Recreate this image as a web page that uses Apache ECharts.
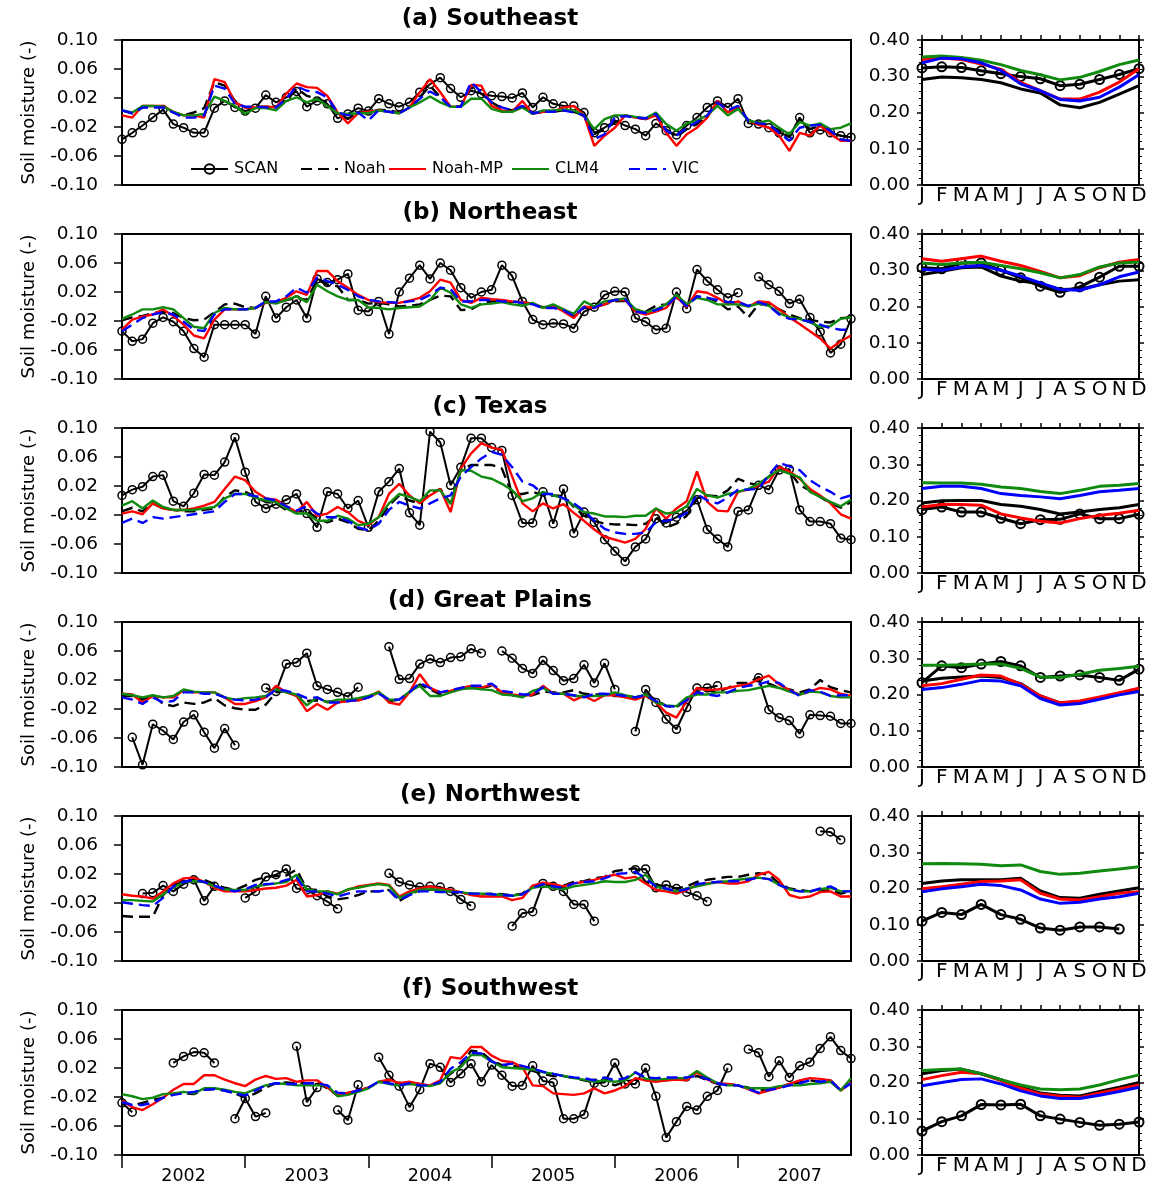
<!DOCTYPE html>
<html>
<head>
<meta charset="utf-8">
<script src="https://cdn.jsdelivr.net/npm/echarts@6/dist/echarts.min.js"></script>
<style>
  html, body { margin: 0; padding: 0; background: #ffffff; }
  #chart { width: 1151px; height: 1188px; }
</style>
</head>
<body>
<div id="chart"></div>
<script>
// ---- labels ----
const regionTitles = ['(a) Southeast', '(b) Northeast', '(c) Texas', '(d) Great Plains', '(e) Northwest', '(f) Southwest'];
const seriesNames = ['SCAN', 'Noah', 'Noah-MP', 'CLM4', 'VIC'];
const yearLabels = ['2002', '2003', '2004', '2005', '2006', '2007'];
const monthLetters = ['J', 'F', 'M', 'A', 'M', 'J', 'J', 'A', 'S', 'O', 'N', 'D'];
const anomalyTicks = [-0.10, -0.06, -0.02, 0.02, 0.06, 0.10];

// ---- monthly soil moisture anomalies, Jan 2002 .. Dec 2007 (null = no SCAN data) ----
// (a) Southeast
const scanSE = [-0.037,-0.028,-0.018,-0.007,0.004,-0.016,-0.021,-0.028,-0.028,0.006,0.016,0.007,0.002,0.006,0.024,0.014,0.021,0.029,0.008,0.016,0.012,-0.008,-0.002,0.006,0.002,0.019,0.012,0.008,0.014,0.028,0.039,0.048,0.033,0.021,0.030,0.026,0.023,0.022,0.020,0.027,0.007,0.021,0.012,0.009,0.009,0.000,-0.028,-0.021,-0.011,-0.018,-0.023,-0.032,-0.015,-0.025,-0.031,-0.018,-0.007,0.007,0.016,0.007,0.019,-0.015,-0.016,-0.021,-0.028,-0.033,-0.007,-0.028,-0.024,-0.028,-0.032,-0.034];
const noahSE = [0.003,-0.001,0.007,0.008,0.008,0.000,-0.004,0.000,0.006,0.042,0.037,0.016,0.007,0.008,0.008,0.008,0.016,0.033,0.023,0.019,0.014,-0.001,-0.009,0.001,0.000,0.004,0.003,0.000,0.007,0.021,0.037,0.021,0.008,0.009,0.035,0.026,0.014,0.006,0.003,0.009,-0.001,0.001,0.001,0.003,0.001,-0.004,-0.030,-0.023,-0.014,-0.004,-0.007,-0.009,-0.004,-0.023,-0.034,-0.023,-0.016,-0.005,0.016,0.003,0.008,-0.011,-0.014,-0.017,-0.025,-0.034,-0.009,-0.023,-0.018,-0.028,-0.032,-0.034];
const noahmpSE = [-0.004,-0.007,0.009,0.009,0.009,0.001,-0.004,-0.004,-0.007,0.046,0.042,0.014,0.007,0.007,0.008,0.007,0.026,0.040,0.035,0.034,0.023,0.000,-0.015,-0.001,0.001,0.003,0.001,-0.001,0.007,0.028,0.046,0.028,0.008,0.008,0.038,0.037,0.009,0.003,0.001,0.016,-0.002,0.001,0.001,0.007,0.009,-0.004,-0.046,-0.032,-0.021,-0.004,-0.007,-0.009,-0.004,-0.028,-0.046,-0.030,-0.021,-0.007,0.016,0.000,0.007,-0.011,-0.017,-0.021,-0.032,-0.053,-0.028,-0.032,-0.018,-0.030,-0.039,-0.039];
const clm4SE = [0.003,0.000,0.009,0.009,0.008,0.001,-0.004,-0.004,-0.002,0.022,0.016,0.009,-0.002,0.006,0.006,0.003,0.016,0.021,0.014,0.019,0.009,-0.001,-0.002,-0.001,-0.001,0.003,0.001,-0.001,0.007,0.014,0.022,0.014,0.008,0.008,0.019,0.019,0.005,0.001,0.001,0.007,-0.002,0.003,0.003,0.004,0.003,-0.004,-0.023,-0.009,-0.004,-0.004,-0.006,-0.008,0.000,-0.016,-0.025,-0.015,-0.011,-0.004,0.009,-0.004,0.005,-0.011,-0.014,-0.011,-0.021,-0.030,-0.013,-0.018,-0.015,-0.023,-0.021,-0.015];
const vicSE = [0.003,-0.001,0.007,0.007,0.007,0.000,-0.007,-0.007,-0.004,0.037,0.033,0.012,0.008,0.008,0.007,0.007,0.019,0.036,0.030,0.028,0.021,0.000,-0.004,0.000,-0.011,0.003,0.001,-0.001,0.007,0.019,0.029,0.021,0.008,0.008,0.042,0.028,0.014,0.007,0.003,0.009,-0.001,0.001,0.001,0.003,0.000,-0.004,-0.037,-0.030,-0.007,-0.005,-0.007,-0.008,-0.002,-0.025,-0.032,-0.021,-0.013,-0.004,0.014,0.003,0.009,-0.011,-0.015,-0.016,-0.028,-0.039,-0.021,-0.018,-0.017,-0.025,-0.037,-0.039];

// (b) Northeast
const scanNE = [-0.034,-0.048,-0.045,-0.023,-0.015,-0.021,-0.034,-0.058,-0.070,-0.025,-0.025,-0.025,-0.025,-0.038,0.014,-0.016,-0.001,0.009,-0.016,0.038,0.033,0.037,0.045,-0.005,-0.007,0.007,-0.038,0.020,0.039,0.057,0.038,0.060,0.050,0.026,0.012,0.020,0.023,0.057,0.042,0.007,-0.018,-0.025,-0.023,-0.024,-0.030,-0.007,-0.001,0.016,0.021,0.020,-0.016,-0.021,-0.032,-0.030,0.020,-0.003,0.051,0.035,0.023,0.012,0.019,null,0.041,0.030,0.021,0.004,0.010,-0.015,-0.035,-0.064,-0.052,-0.017];
const noahNE = [-0.019,-0.015,-0.013,-0.009,-0.007,-0.009,-0.016,-0.019,-0.018,-0.008,0.003,0.004,-0.001,-0.002,0.007,0.005,0.009,0.012,0.009,0.037,0.030,0.028,0.009,0.009,0.004,0.005,0.003,0.000,0.001,0.003,0.009,0.015,0.014,-0.005,-0.004,0.004,0.007,0.007,0.006,0.006,0.003,-0.001,0.000,-0.004,-0.014,-0.002,-0.001,0.003,0.007,0.008,-0.004,-0.007,0.001,0.003,0.012,0.004,0.014,0.012,0.007,-0.004,0.000,-0.015,0.003,0.003,-0.004,-0.011,-0.016,-0.018,-0.021,-0.022,-0.016,-0.015];
const noahmpNE = [-0.032,-0.018,-0.014,-0.011,-0.004,-0.013,-0.025,-0.040,-0.044,-0.018,-0.004,-0.004,-0.004,-0.002,0.005,0.006,0.012,0.021,0.016,0.049,0.049,0.035,0.026,0.016,0.009,0.006,0.005,0.005,0.008,0.012,0.021,0.037,0.033,0.009,0.005,0.012,0.010,0.009,0.007,0.006,0.004,-0.002,0.001,-0.007,-0.016,0.000,-0.002,0.003,0.009,0.009,-0.007,-0.011,-0.007,-0.002,0.014,-0.001,0.021,0.019,0.012,0.003,0.007,0.000,0.007,0.006,-0.004,-0.015,-0.024,-0.034,-0.044,-0.058,-0.048,-0.040];
const clm4NE = [-0.017,-0.011,-0.004,-0.004,-0.001,-0.004,-0.016,-0.028,-0.030,-0.009,-0.002,-0.004,-0.004,-0.002,0.006,0.004,0.009,0.014,0.006,0.030,0.021,0.014,0.009,0.009,-0.001,-0.002,-0.004,-0.002,-0.001,0.000,0.009,0.026,0.019,0.003,-0.002,0.003,0.004,0.006,0.003,0.001,0.005,-0.002,0.003,-0.004,-0.010,0.007,0.000,0.007,0.009,0.011,-0.004,-0.008,-0.004,0.003,0.016,0.003,0.012,0.009,0.003,0.003,0.003,0.000,0.004,0.001,-0.009,-0.015,-0.017,-0.022,-0.028,-0.027,-0.017,-0.015];
const vicNE = [-0.034,-0.025,-0.016,-0.011,-0.008,-0.011,-0.021,-0.032,-0.034,-0.011,-0.004,-0.004,-0.004,-0.002,0.007,0.007,0.014,0.026,0.019,0.040,0.035,0.030,0.023,0.014,0.009,0.007,0.006,0.005,0.007,0.009,0.016,0.026,0.024,0.007,0.007,0.009,0.009,0.007,0.007,0.005,0.003,-0.002,-0.002,-0.005,-0.013,-0.001,-0.002,0.005,0.009,0.010,-0.007,-0.009,-0.005,0.000,0.014,0.000,0.014,0.012,0.009,0.006,0.006,0.001,0.006,0.001,-0.011,-0.017,-0.018,-0.021,-0.025,-0.030,-0.032,-0.032];

// (c) Texas
const scanTX = [0.007,0.015,0.019,0.033,0.035,-0.001,-0.008,0.010,0.036,0.035,0.053,0.087,0.039,-0.002,-0.011,-0.005,0.001,0.009,-0.018,-0.037,0.012,0.009,-0.011,0.000,-0.037,0.012,0.026,0.044,-0.017,-0.034,0.095,0.080,0.021,0.046,0.086,0.086,0.073,0.069,0.007,-0.031,-0.031,0.012,-0.032,0.016,-0.045,-0.016,-0.030,-0.054,-0.070,-0.084,-0.064,-0.053,-0.025,-0.031,-0.023,-0.014,0.001,-0.040,-0.053,-0.064,-0.015,-0.013,0.021,0.015,0.042,0.043,-0.013,-0.029,-0.029,-0.032,-0.052,-0.054];
const noahTX = [-0.015,-0.010,-0.015,-0.004,-0.011,-0.013,-0.015,-0.015,-0.013,-0.011,0.005,0.014,0.012,0.005,-0.002,-0.004,-0.013,-0.015,-0.014,-0.025,-0.030,-0.025,-0.030,-0.039,-0.041,-0.028,-0.007,0.007,0.000,-0.004,0.009,0.016,-0.004,0.042,0.049,0.049,0.049,0.044,0.009,0.009,0.012,0.007,0.007,0.006,-0.009,-0.021,-0.028,-0.032,-0.033,-0.033,-0.034,-0.032,-0.021,-0.037,-0.032,-0.021,0.003,0.007,0.006,0.014,0.030,0.024,0.021,0.033,0.046,0.040,0.021,0.014,0.005,-0.004,-0.010,-0.002];
const noahmpTX = [-0.018,-0.015,-0.019,-0.004,-0.011,-0.013,-0.013,-0.011,-0.007,-0.002,0.016,0.033,0.028,0.012,0.003,0.001,-0.008,-0.016,-0.002,-0.021,-0.018,-0.009,-0.016,-0.028,-0.034,-0.023,0.009,0.023,0.007,-0.004,0.007,0.016,-0.016,0.044,0.065,0.079,0.073,0.070,0.033,-0.004,-0.015,-0.004,-0.011,-0.005,-0.017,-0.028,-0.040,-0.050,-0.054,-0.058,-0.053,-0.039,-0.011,-0.025,-0.011,-0.001,0.040,-0.002,-0.014,-0.015,0.012,0.015,0.021,0.026,0.046,0.040,0.030,0.016,0.007,-0.004,-0.019,-0.025];
const clm4TX = [-0.007,-0.001,-0.011,0.000,-0.009,-0.013,-0.013,-0.013,-0.011,-0.009,0.003,0.009,0.009,0.004,0.000,-0.002,-0.011,-0.018,-0.018,-0.028,-0.028,-0.021,-0.025,-0.034,-0.032,-0.023,-0.004,0.009,0.005,-0.001,0.014,0.014,-0.005,0.042,0.041,0.033,0.030,0.023,0.014,-0.001,0.003,0.012,0.007,0.003,-0.007,-0.016,-0.018,-0.022,-0.022,-0.023,-0.021,-0.021,-0.011,-0.018,-0.016,-0.008,0.016,0.007,0.004,0.009,0.012,0.016,0.023,0.033,0.042,0.037,0.032,0.012,0.005,-0.002,-0.008,0.001];
const vicTX = [-0.031,-0.025,-0.031,-0.023,-0.025,-0.023,-0.021,-0.019,-0.017,-0.015,-0.002,0.009,0.009,0.006,0.003,0.000,-0.008,-0.014,-0.008,-0.018,-0.023,-0.023,-0.028,-0.037,-0.041,-0.032,-0.013,-0.002,-0.007,-0.011,-0.004,0.003,0.007,0.033,0.046,0.058,0.067,0.063,0.046,0.026,0.021,0.009,0.009,0.003,-0.004,-0.014,-0.028,-0.039,-0.044,-0.046,-0.046,-0.044,-0.030,-0.028,-0.025,-0.017,0.009,0.000,-0.004,0.004,0.015,0.015,0.016,0.035,0.052,0.047,0.042,0.028,0.019,0.012,0.003,0.007];

// (d) Great Plains
const scanGP = [null,-0.059,-0.097,-0.041,-0.050,-0.062,-0.038,-0.028,-0.052,-0.074,-0.047,-0.070,null,null,0.009,0.004,0.042,0.044,0.057,0.012,0.007,0.003,-0.003,0.010,null,null,0.066,0.021,0.022,0.042,0.049,0.044,0.051,0.052,0.063,0.057,null,0.060,0.050,0.036,0.029,0.047,0.033,0.019,0.022,0.041,0.016,0.043,0.007,null,-0.051,0.007,-0.011,-0.034,-0.048,-0.018,0.009,0.009,0.012,null,null,null,0.023,-0.021,-0.032,-0.036,-0.054,-0.028,-0.029,-0.030,-0.040,-0.040];
const noahGP = [-0.002,-0.002,-0.007,-0.001,-0.013,-0.016,-0.011,-0.013,-0.011,-0.005,-0.015,-0.019,-0.021,-0.021,-0.014,0.003,0.005,-0.002,-0.009,-0.008,-0.010,-0.009,-0.009,-0.008,-0.004,0.003,-0.009,-0.007,0.003,0.014,0.007,0.000,0.004,0.009,0.009,0.009,0.012,0.003,-0.001,-0.002,-0.001,0.004,0.003,0.003,0.006,0.001,0.000,0.000,-0.002,-0.002,-0.004,0.000,-0.007,-0.016,-0.017,-0.008,0.006,0.006,0.003,0.009,0.016,0.016,0.024,0.015,0.009,0.007,0.003,0.007,0.020,0.010,0.006,0.003];
const noahmpGP = [0.001,0.000,-0.011,-0.002,-0.004,-0.004,0.006,0.003,0.003,0.003,-0.004,-0.013,-0.013,-0.009,-0.004,0.012,0.003,-0.002,-0.023,-0.013,-0.021,-0.011,-0.009,-0.008,-0.004,0.004,-0.011,-0.014,0.003,0.028,0.009,0.003,0.005,0.009,0.012,0.009,0.014,0.003,0.000,-0.002,0.000,0.012,0.001,0.001,-0.008,-0.002,-0.009,-0.001,-0.001,-0.004,-0.007,-0.002,-0.011,-0.025,-0.032,-0.009,0.009,0.006,0.007,0.009,0.012,0.014,0.021,0.026,0.014,0.006,0.000,0.004,0.009,0.007,0.001,-0.002];
const clm4GP = [0.001,-0.001,-0.004,-0.001,-0.004,-0.002,0.007,0.004,0.003,0.003,-0.004,-0.007,-0.005,-0.004,-0.002,0.007,0.003,0.000,-0.015,-0.004,-0.011,-0.007,-0.007,-0.005,-0.002,0.003,-0.007,-0.007,0.004,0.012,-0.002,-0.002,0.003,0.007,0.009,0.007,0.006,0.000,-0.001,-0.004,0.005,0.009,0.001,0.001,-0.002,-0.002,-0.002,-0.001,0.003,-0.001,-0.004,0.000,-0.011,-0.015,-0.016,-0.004,0.000,0.000,0.003,0.003,0.005,0.006,0.009,0.012,0.009,0.004,0.000,0.004,0.003,-0.002,-0.004,-0.004];
const vicGP = [-0.004,-0.007,-0.013,-0.004,-0.011,-0.009,0.003,0.003,0.001,0.001,-0.004,-0.007,-0.008,-0.007,-0.004,0.007,0.005,0.001,-0.005,-0.004,-0.011,-0.011,-0.009,-0.008,-0.004,0.001,-0.007,-0.007,0.003,0.016,0.009,0.003,0.006,0.009,0.012,0.012,0.015,0.005,0.003,0.000,0.000,0.010,0.001,0.001,-0.001,-0.004,0.001,0.001,0.000,-0.002,-0.004,-0.001,-0.009,-0.016,-0.017,-0.008,0.003,0.000,-0.002,0.003,0.009,0.012,0.014,0.018,0.016,0.006,-0.002,0.006,0.004,-0.002,-0.001,-0.001];

// (e) Northwest
const scanNW = [null,null,-0.007,-0.006,0.004,-0.004,0.006,0.012,-0.017,0.003,null,null,-0.013,-0.004,0.016,0.019,0.027,0.000,-0.002,-0.010,-0.018,-0.028,null,null,null,null,0.021,0.009,0.005,0.002,0.003,0.002,-0.004,-0.015,-0.024,null,null,null,-0.052,-0.034,-0.032,0.007,0.003,-0.004,-0.022,-0.022,-0.045,null,null,null,0.026,0.027,0.001,0.005,0.000,-0.005,-0.010,-0.018,null,null,null,null,null,null,null,null,null,null,0.079,0.078,0.067,null];
const noahNW = [-0.038,-0.039,-0.039,-0.039,-0.009,0.005,0.009,0.014,0.012,0.006,0.001,-0.002,0.004,0.012,0.016,0.017,0.018,0.026,-0.001,-0.002,-0.011,-0.015,-0.013,-0.009,-0.004,-0.004,-0.002,-0.017,-0.009,-0.002,-0.001,-0.004,-0.004,-0.007,-0.007,-0.008,-0.007,-0.008,-0.009,-0.007,0.003,0.007,0.005,0.004,0.009,0.010,0.014,0.016,0.024,0.026,0.028,0.009,0.005,0.003,0.000,0.003,0.009,0.012,0.014,0.016,0.016,0.019,0.021,0.019,0.007,0.000,-0.002,-0.004,-0.004,-0.002,-0.007,-0.004];
const noahmpNW = [-0.008,-0.010,-0.011,-0.014,-0.004,0.007,0.014,0.015,0.009,0.001,-0.004,-0.004,-0.004,-0.002,0.000,0.001,0.004,0.012,-0.011,-0.009,-0.004,-0.007,-0.002,0.003,0.005,0.007,0.005,-0.011,-0.004,0.000,0.003,0.000,-0.002,-0.005,-0.009,-0.011,-0.011,-0.011,-0.016,-0.013,0.004,0.008,0.006,0.003,0.007,0.009,0.012,0.016,0.019,0.014,0.016,0.007,-0.002,-0.004,-0.007,-0.002,0.005,0.007,0.009,0.007,0.007,0.010,0.019,0.023,0.012,-0.009,-0.013,-0.011,-0.005,-0.004,-0.011,-0.011];
const clm4NW = [-0.016,-0.016,-0.017,-0.018,-0.008,0.001,0.009,0.010,0.009,0.003,-0.001,-0.002,-0.002,0.003,0.005,0.007,0.009,0.019,-0.001,-0.004,-0.004,-0.008,-0.001,0.001,0.004,0.006,0.004,-0.013,-0.007,-0.002,-0.001,-0.002,-0.004,-0.005,-0.007,-0.007,-0.008,-0.009,-0.010,-0.008,0.001,0.003,0.001,-0.001,0.003,0.005,0.007,0.010,0.009,0.009,0.012,0.019,0.003,-0.001,-0.004,0.000,0.003,0.006,0.009,0.010,0.012,0.014,0.015,0.013,0.005,-0.001,-0.004,-0.004,-0.001,0.001,-0.004,-0.004];
const vicNW = [-0.019,-0.021,-0.023,-0.024,-0.013,0.003,0.009,0.012,0.009,0.004,-0.001,-0.004,-0.001,0.005,0.006,0.007,0.012,0.015,-0.004,-0.004,-0.007,-0.011,-0.007,-0.004,-0.004,-0.004,-0.002,-0.016,-0.009,-0.004,-0.004,-0.005,-0.005,-0.005,-0.007,-0.007,-0.008,-0.009,-0.010,-0.008,0.001,0.006,0.003,0.001,0.007,0.009,0.010,0.014,0.020,0.021,0.023,0.014,0.003,0.000,-0.004,-0.001,0.006,0.008,0.009,0.010,0.010,0.012,0.015,0.013,0.005,-0.001,-0.004,-0.004,0.000,0.003,-0.004,-0.004];

// (f) Southwest
const scanSW = [-0.028,-0.041,null,null,null,0.027,0.036,0.042,0.041,0.027,null,-0.050,-0.022,-0.047,-0.042,null,null,0.050,-0.027,-0.007,null,-0.038,-0.052,-0.003,null,0.035,0.010,-0.005,-0.034,-0.010,0.026,0.021,0.000,0.012,0.026,0.001,0.024,0.010,-0.005,-0.004,0.023,0.002,0.000,-0.050,-0.050,-0.044,-0.001,0.000,0.027,-0.002,-0.002,0.020,-0.019,-0.076,-0.054,-0.033,-0.038,-0.019,-0.011,0.020,null,0.046,0.041,0.008,0.030,0.007,0.023,0.028,0.047,0.063,0.044,0.033];
const noahSW = [-0.025,-0.032,-0.028,-0.024,-0.021,-0.016,-0.015,-0.016,-0.010,-0.009,-0.011,-0.015,-0.021,-0.015,-0.007,-0.001,0.000,-0.001,-0.001,-0.001,-0.008,-0.018,-0.016,-0.011,-0.007,0.000,0.003,-0.002,-0.001,-0.002,-0.004,0.001,0.012,0.023,0.044,0.042,0.030,0.024,0.023,0.021,0.016,0.012,0.009,0.009,0.006,0.003,0.000,0.003,-0.004,0.001,0.004,0.003,0.003,0.003,0.005,0.003,0.009,0.003,-0.002,-0.002,-0.004,-0.007,-0.011,-0.010,-0.007,-0.002,0.000,0.003,0.001,0.003,-0.011,0.003];
const noahmpSW = [-0.025,-0.034,-0.038,-0.030,-0.021,-0.010,-0.002,-0.002,0.010,0.010,0.004,-0.001,-0.005,0.004,0.009,0.005,0.006,0.001,0.003,0.003,-0.007,-0.018,-0.014,-0.011,-0.007,0.001,0.004,-0.001,0.001,-0.002,-0.004,0.003,0.035,0.033,0.049,0.049,0.037,0.030,0.028,0.021,-0.004,-0.005,-0.015,-0.016,-0.017,-0.015,-0.008,-0.015,-0.011,-0.005,0.006,0.003,0.001,0.003,0.004,0.003,0.014,0.004,-0.001,-0.002,-0.004,-0.009,-0.015,-0.011,-0.007,-0.002,0.003,0.006,0.005,0.003,-0.011,0.000];
const clm4SW = [-0.016,-0.019,-0.023,-0.021,-0.016,-0.015,-0.013,-0.015,-0.008,-0.008,-0.010,-0.013,-0.015,-0.009,-0.004,-0.001,-0.002,-0.004,-0.004,-0.004,-0.004,-0.019,-0.017,-0.013,-0.008,0.001,-0.002,-0.004,-0.002,-0.004,-0.005,-0.001,0.014,0.021,0.038,0.038,0.029,0.021,0.020,0.019,0.018,0.014,0.012,0.009,0.006,0.004,0.001,0.003,0.001,0.003,0.014,0.005,0.004,0.005,0.006,0.006,0.016,0.007,-0.001,-0.004,-0.004,-0.008,-0.008,-0.008,-0.005,-0.004,-0.004,-0.002,-0.001,0.001,-0.011,0.006];
const vicSW = [-0.027,-0.031,-0.031,-0.028,-0.021,-0.017,-0.015,-0.013,-0.010,-0.009,-0.011,-0.015,-0.018,-0.011,-0.004,-0.001,-0.002,-0.002,-0.001,-0.001,-0.004,-0.014,-0.015,-0.011,-0.007,0.001,-0.001,-0.004,-0.001,-0.004,-0.004,0.001,0.019,0.028,0.041,0.040,0.029,0.024,0.026,0.023,0.019,0.015,0.012,0.009,0.007,0.006,0.003,0.007,0.003,0.006,0.014,0.007,0.006,0.007,0.007,0.007,0.009,0.005,-0.001,-0.004,-0.004,-0.009,-0.014,-0.010,-0.008,-0.004,-0.001,0.003,0.001,0.003,-0.011,-0.001];

// ---- mean seasonal cycle, Jan .. Dec ----
const climScanSE = [0.323,0.326,0.324,0.315,0.307,0.299,0.293,0.274,0.278,0.291,0.305,0.321];
const climNoahSE = [0.291,0.298,0.296,0.291,0.282,0.265,0.254,0.221,0.213,0.228,0.251,0.274];
const climNoahmpSE = [0.346,0.350,0.346,0.334,0.319,0.283,0.260,0.237,0.237,0.256,0.284,0.321];
const climClm4SE = [0.353,0.356,0.352,0.344,0.332,0.316,0.304,0.290,0.297,0.313,0.332,0.345];
const climVicSE = [0.337,0.350,0.348,0.337,0.316,0.279,0.260,0.236,0.232,0.242,0.270,0.304];

const climScanNE = [0.307,0.304,0.320,0.320,0.300,0.279,0.256,0.239,0.254,0.281,0.311,0.311];
const climNoahNE = [0.288,0.297,0.307,0.309,0.284,0.270,0.263,0.247,0.248,0.260,0.270,0.274];
const climNoahmpNE = [0.332,0.325,0.332,0.339,0.325,0.313,0.297,0.279,0.285,0.307,0.322,0.330];
const climClm4NE = [0.320,0.316,0.320,0.322,0.313,0.304,0.293,0.279,0.288,0.309,0.320,0.323];
const climVicNE = [0.302,0.300,0.309,0.313,0.300,0.284,0.265,0.247,0.245,0.260,0.282,0.295];

const climScanTX = [0.175,0.182,0.168,0.168,0.151,0.136,0.147,0.148,0.163,0.150,0.150,0.162];
const climNoahTX = [0.193,0.199,0.200,0.200,0.189,0.184,0.175,0.163,0.168,0.175,0.180,0.189];
const climNoahmpTX = [0.182,0.189,0.189,0.187,0.163,0.152,0.143,0.138,0.150,0.159,0.165,0.173];
const climClm4TX = [0.249,0.248,0.248,0.245,0.237,0.233,0.225,0.219,0.228,0.239,0.242,0.247];
const climVicTX = [0.233,0.239,0.239,0.233,0.219,0.214,0.210,0.205,0.214,0.224,0.228,0.233];

const climScanGP = [0.233,0.279,0.274,0.284,0.291,0.279,0.247,0.251,0.254,0.247,0.239,0.270];
const climNoahGP = [0.237,0.245,0.248,0.251,0.247,0.230,0.196,0.177,0.180,0.191,0.202,0.214];
const climNoahmpGP = [0.224,0.230,0.242,0.254,0.251,0.228,0.196,0.177,0.182,0.193,0.205,0.217];
const climClm4GP = [0.281,0.281,0.282,0.284,0.284,0.272,0.248,0.247,0.256,0.267,0.272,0.278];
const climVicGP = [0.214,0.219,0.228,0.239,0.237,0.224,0.189,0.171,0.175,0.187,0.199,0.208];

const climScanNW = [0.110,0.134,0.128,0.156,0.128,0.115,0.091,0.085,0.094,0.094,0.088,null];
const climNoahNW = [0.214,0.221,0.224,0.224,0.224,0.228,0.193,0.175,0.173,0.184,0.193,0.202];
const climNoahmpNW = [0.199,0.205,0.212,0.219,0.221,0.224,0.187,0.171,0.168,0.177,0.187,0.191];
const climClm4NW = [0.268,0.269,0.268,0.267,0.263,0.265,0.247,0.239,0.242,0.248,0.254,0.260];
const climVicNW = [0.191,0.199,0.205,0.212,0.208,0.196,0.171,0.159,0.162,0.171,0.177,0.187];

const climScanSW = [0.066,0.092,0.108,0.139,0.138,0.140,0.108,0.099,0.090,0.082,0.085,0.091];
const climNoahSW = [0.224,0.233,0.237,0.224,0.208,0.187,0.171,0.165,0.163,0.175,0.187,0.200];
const climNoahmpSW = [0.208,0.219,0.228,0.224,0.205,0.184,0.168,0.162,0.159,0.171,0.182,0.193];
const climClm4SW = [0.233,0.236,0.237,0.224,0.208,0.193,0.182,0.180,0.182,0.193,0.208,0.221];
const climVicSW = [0.191,0.200,0.208,0.210,0.196,0.177,0.163,0.156,0.156,0.165,0.175,0.187];

// one row per region: [SCAN, Noah, Noah-MP, CLM4, VIC]
const monthlyByRegion = [
  [scanSE, noahSE, noahmpSE, clm4SE, vicSE],
  [scanNE, noahNE, noahmpNE, clm4NE, vicNE],
  [scanTX, noahTX, noahmpTX, clm4TX, vicTX],
  [scanGP, noahGP, noahmpGP, clm4GP, vicGP],
  [scanNW, noahNW, noahmpNW, clm4NW, vicNW],
  [scanSW, noahSW, noahmpSW, clm4SW, vicSW]
];
const climByRegion = [
  [climScanSE, climNoahSE, climNoahmpSE, climClm4SE, climVicSE],
  [climScanNE, climNoahNE, climNoahmpNE, climClm4NE, climVicNE],
  [climScanTX, climNoahTX, climNoahmpTX, climClm4TX, climVicTX],
  [climScanGP, climNoahGP, climNoahmpGP, climClm4GP, climVicGP],
  [climScanNW, climNoahNW, climNoahmpNW, climClm4NW, climVicNW],
  [climScanSW, climNoahSW, climNoahmpSW, climClm4SW, climVicSW]
];

// ---- styling and layout ----
const FONT = 'DejaVu Sans';
const lineColors = ['#000000', '#000000', '#ff0000', '#0f8a0f', '#0000ff'];
const leftDash = ['solid', [11, 6], 'solid', 'solid', [11, 6]];
const LEFT_X = 122, LEFT_W = 729;
const RIGHT_X = 922, RIGHT_W = 217;
const TOP0 = 40, ROW_H = 145, ROW_STEP = 194;
const TITLE_CX = 490;

const grids = [], xAxes = [], yAxes = [], series = [], titles = [];

regionTitles.forEach((title, r) => {
  const top = TOP0 + r * ROW_STEP;
  const isLast = r === regionTitles.length - 1;
  grids.push({ left: LEFT_X, top, width: LEFT_W, height: ROW_H, show: true, borderColor: '#000', borderWidth: 2, backgroundColor: '#fff' });
  grids.push({ left: RIGHT_X, top, width: RIGHT_W, height: ROW_H, show: true, borderColor: '#000', borderWidth: 2, backgroundColor: '#fff' });
  const gL = 2 * r, gR = 2 * r + 1;

  // time-series panel: year ticks and labels along the bottom row only
  xAxes.push({
    gridIndex: gL, type: 'value', min: 0, max: 71, position: 'bottom',
    axisLine: { show: false, onZero: false }, splitLine: { show: false },
    axisTick: { show: isLast, customValues: [0, 12, 24, 36, 48, 60], length: 13, inside: false, lineStyle: { color: '#000', width: 1.5 } },
    axisLabel: { show: isLast, customValues: [6, 18, 30, 42, 54, 66], formatter: v => yearLabels[Math.round((v - 6) / 12)], margin: 12, fontSize: 17.5, fontFamily: FONT, color: '#000' }
  });
  // seasonal panel: month letters below, ticks on top
  xAxes.push({
    gridIndex: gR, type: 'value', min: 0, max: 11, position: 'bottom',
    axisLine: { show: false, onZero: false }, splitLine: { show: false },
    axisTick: { show: false },
    axisLabel: { customValues: [0,1,2,3,4,5,6,7,8,9,10,11], formatter: v => monthLetters[Math.round(v)], margin: 1, fontSize: 20, fontFamily: FONT, color: '#000' }
  });
  xAxes.push({
    gridIndex: gR, type: 'value', min: 0, max: 11, position: 'top',
    axisLine: { show: false, onZero: false }, splitLine: { show: false },
    axisTick: { show: true, customValues: [0,1,2,3,4,5,6,7,8,9,10,11], length: 5, inside: false, lineStyle: { color: '#000', width: 1.5 } },
    axisLabel: { show: false }
  });

  yAxes.push({
    gridIndex: gL, type: 'value', min: -0.1, max: 0.1, position: 'left',
    axisLine: { show: false, onZero: false }, splitLine: { show: false },
    axisTick: { show: true, customValues: anomalyTicks, length: 8, inside: false, lineStyle: { color: '#000', width: 1.5 } },
    axisLabel: { customValues: anomalyTicks, formatter: v => v.toFixed(2), margin: 24, fontSize: 18.5, fontFamily: FONT, color: '#000' },
    name: 'Soil moisture (-)', nameLocation: 'middle', nameGap: 84,
    nameTextStyle: { fontSize: 18, fontFamily: FONT, color: '#000' }
  });
  yAxes.push({
    gridIndex: gR, type: 'value', min: 0, max: 0.4, interval: 0.1, position: 'left',
    axisLine: { show: false, onZero: false }, splitLine: { show: false },
    axisTick: { show: true, length: 5, inside: false, lineStyle: { color: '#000', width: 1.5 } },
    minorTick: { show: true, splitNumber: 5, length: 3, lineStyle: { color: '#000', width: 1 } },
    axisLabel: { formatter: v => v.toFixed(2), margin: 12, fontSize: 18.5, fontFamily: FONT, color: '#000' }
  });
  yAxes.push({
    gridIndex: gR, type: 'value', min: 0, max: 0.4, interval: 0.1, position: 'right',
    axisLine: { show: false, onZero: false }, splitLine: { show: false },
    axisTick: { show: true, length: 5, inside: false, lineStyle: { color: '#000', width: 1.5 } },
    minorTick: { show: true, splitNumber: 5, length: 3, lineStyle: { color: '#000', width: 1 } },
    axisLabel: { show: false }
  });

  titles.push({
    text: title, left: TITLE_CX, top: top - 33, textAlign: 'center', padding: 0,
    textStyle: { fontSize: 23, fontWeight: 'bold', fontFamily: FONT, color: '#000', lineHeight: 24 }
  });

  monthlyByRegion[r].forEach((vals, k) => {
    series.push({
      name: seriesNames[k], type: 'line', xAxisIndex: 3 * r, yAxisIndex: 3 * r,
      data: vals.map((v, i) => [i, v === null ? '-' : v]),
      symbol: k === 0 ? 'circle' : 'none', symbolSize: 8, showSymbol: k === 0,
      connectNulls: false, animation: false, z: 2 + k,
      lineStyle: { color: lineColors[k], width: k === 0 ? 2 : 2.4, type: leftDash[k] },
      itemStyle: { color: k === 0 ? 'rgba(0,0,0,0)' : lineColors[k], borderColor: lineColors[k], borderWidth: 1.5 }
    });
  });
  climByRegion[r].forEach((vals, k) => {
    series.push({
      name: seriesNames[k], type: 'line', xAxisIndex: 3 * r + 1, yAxisIndex: 3 * r + 1,
      data: vals.map((v, i) => [i, v === null ? '-' : v]),
      symbol: k === 0 ? 'circle' : 'none', symbolSize: 9, showSymbol: k === 0,
      connectNulls: false, animation: false, z: 2 + k,
      lineStyle: { color: lineColors[k], width: 3, type: 'solid' },
      itemStyle: { color: k === 0 ? 'rgba(0,0,0,0)' : lineColors[k], borderColor: lineColors[k], borderWidth: 2 }
    });
  });
});

// legend inside the Southeast panel, one entry per model; only SCAN keeps its marker
const legendLefts = [190, 300, 388, 511, 628];
const legends = seriesNames.map((name, i) => ({
  data: [{ name, itemStyle: i === 0 ? {} : { opacity: 0 } }],
  left: legendLefts[i], top: 161, padding: 0, orient: 'horizontal',
  itemWidth: 37, itemHeight: 12, itemGap: 0, selectedMode: false,
  textStyle: { fontSize: 16, fontFamily: FONT, color: '#000', padding: [0, 0, 0, 1] }
}));

const chart = echarts.init(document.getElementById('chart'), null, { renderer: 'canvas' });
chart.setOption({
  animation: false,
  backgroundColor: '#ffffff',
  title: titles,
  legend: legends,
  grid: grids,
  xAxis: xAxes,
  yAxis: yAxes,
  series: series
});
</script>
</body>
</html>
